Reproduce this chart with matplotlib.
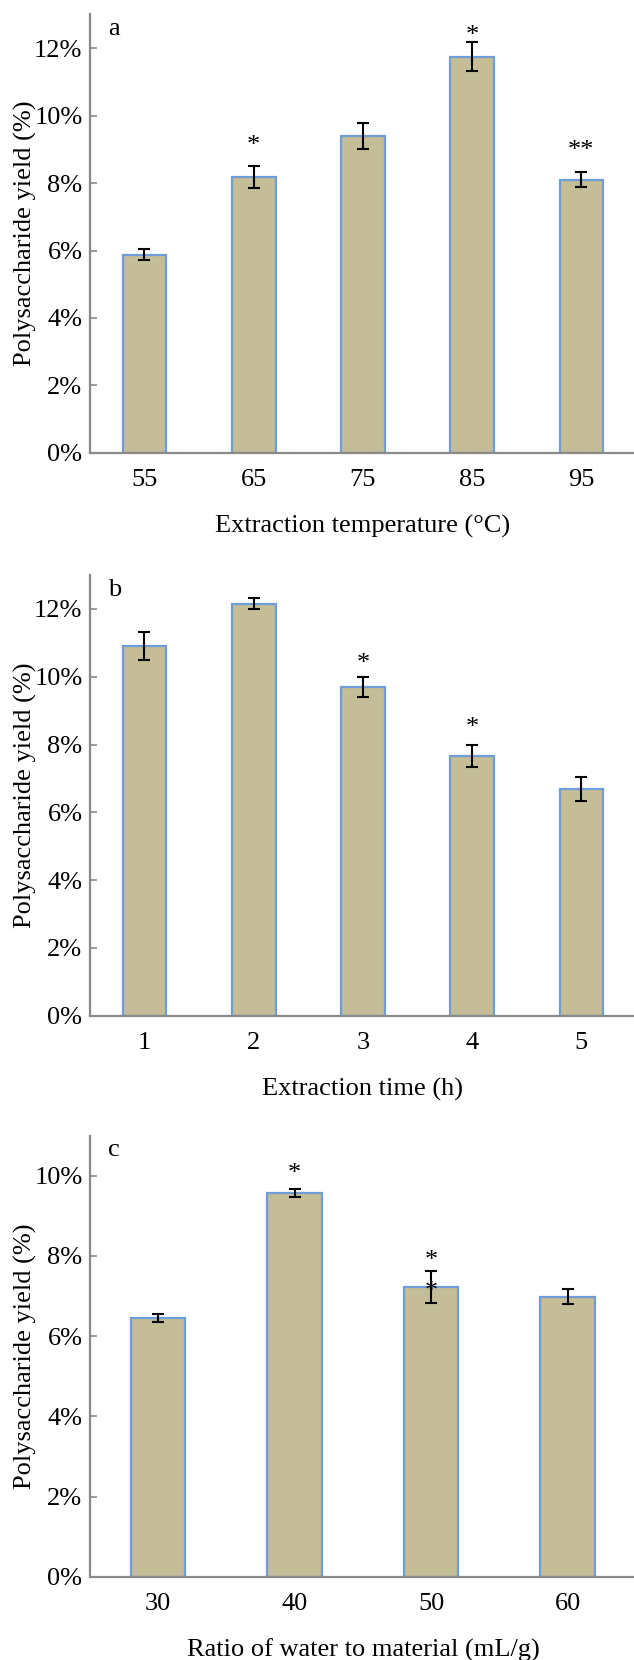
import matplotlib
matplotlib.use("Agg")
import matplotlib.pyplot as plt
from matplotlib.ticker import FuncFormatter

plt.rcParams['font.family'] = ['Liberation Serif', 'DejaVu Serif']

# Panel a: extraction temperature
temp_labels = ['55', '65', '75', '85', '95']
temp_yield = [5.87, 8.19, 9.39, 11.74, 8.10]
temp_err = [0.16, 0.33, 0.38, 0.43, 0.23]
temp_sig = ['', '*', '', '*', '**']
temp_sig_y = [None, 9.28, None, 12.53, 9.14]

# Panel b: extraction time
time_labels = ['1', '2', '3', '4', '5']
time_yield = [10.90, 12.15, 9.69, 7.67, 6.68]
time_err = [0.41, 0.16, 0.30, 0.33, 0.35]
time_sig = ['', '', '*', '*', '']
time_sig_y = [None, None, 10.55, 8.66, None]

# Panel c: ratio of water to material
ratio_labels = ['30', '40', '50', '60']
ratio_yield = [6.45, 9.57, 7.22, 6.99]
ratio_err = [0.10, 0.10, 0.40, 0.18]
ratio_sig = ['', '*', '*', '']
ratio_sig_y = [None, 10.20, 8.03, None]
ratio_extra_sig_y = [None, None, 7.25, None]

BAR_FACE = '#C4BD97'
BAR_EDGE = '#6F9ED6'
SPINE = '#8A8A8A'
FS = 19

W, H = 634, 1660
fig = plt.figure(figsize=(W / 100, H / 100), dpi=100)


def px_axes(left, top, right, bottom):
    return fig.add_axes([left / W, 1 - bottom / H, (right - left) / W, (bottom - top) / H])


def star(ax, xi, yv, s):
    ax.annotate(s, (xi, yv), xytext=(0, -8.6), textcoords='offset points',
                ha='center', va='baseline', fontsize=FS, zorder=3)


def panel(ax, labels, values, errs, sig, sig_y, ymax, letter, xlabel, extra_y=None):
    x = list(range(len(labels)))
    ax.bar(x, values, width=0.4, color=BAR_FACE, edgecolor=BAR_EDGE, linewidth=1.6,
           yerr=errs, error_kw=dict(ecolor='black', elinewidth=1.5, capsize=4.5, capthick=1.5),
           zorder=2)
    for xi, s, yv in zip(x, sig, sig_y):
        if s and yv is not None:
            star(ax, xi, yv, s)
    if extra_y is not None:
        for xi, yv in zip(x, extra_y):
            if yv is not None:
                star(ax, xi, yv, '*')
    ax.set_xlim(-0.5, len(labels) - 0.5)
    ax.set_ylim(0, ymax)
    ax.set_xticks(x)
    ax.set_xticklabels(labels)
    ax.set_yticks(range(0, int(ymax) + 1, 2))
    ax.yaxis.set_major_formatter(FuncFormatter(lambda v, p: f'{int(v)}%'))
    for side in ('top', 'right'):
        ax.spines[side].set_visible(False)
    for side in ('left', 'bottom'):
        ax.spines[side].set_color(SPINE)
        ax.spines[side].set_linewidth(1.6)
    ax.tick_params(axis='y', direction='in', length=4.8, width=1.2, color=SPINE,
                   labelsize=FS, pad=5.3)
    ax.tick_params(axis='x', direction='in', length=3.6, width=1.2, color=SPINE,
                   labelsize=FS, pad=12)
    ax.set_ylabel('Polysaccharide yield (%)', fontsize=FS, va='center')
    ax.set_xlabel(xlabel, fontsize=FS, labelpad=17)
    ax.text(0.033, 0.953, letter, transform=ax.transAxes, fontsize=FS,
            ha='left', va='baseline')


ax_a = px_axes(89.8, 14.5, 636, 452.8)
panel(ax_a, temp_labels, temp_yield, temp_err, temp_sig, temp_sig_y, 13, 'a',
      'Extraction temperature (\u00b0C)')

ax_b = px_axes(89.8, 575, 636, 1015.7)
panel(ax_b, time_labels, time_yield, time_err, time_sig, time_sig_y, 13, 'b',
      'Extraction time (h)')

ax_c = px_axes(89.8, 1135.7, 636, 1576.8)
panel(ax_c, ratio_labels, ratio_yield, ratio_err, ratio_sig, ratio_sig_y, 11, 'c',
      'Ratio of water to material (mL/g)', extra_y=ratio_extra_sig_y)

for ax in (ax_a, ax_b, ax_c):
    ax.yaxis.set_label_coords(-(89.8 - 25.5) / 546.2, 0.5)

fig.savefig('out.png', dpi=100)
